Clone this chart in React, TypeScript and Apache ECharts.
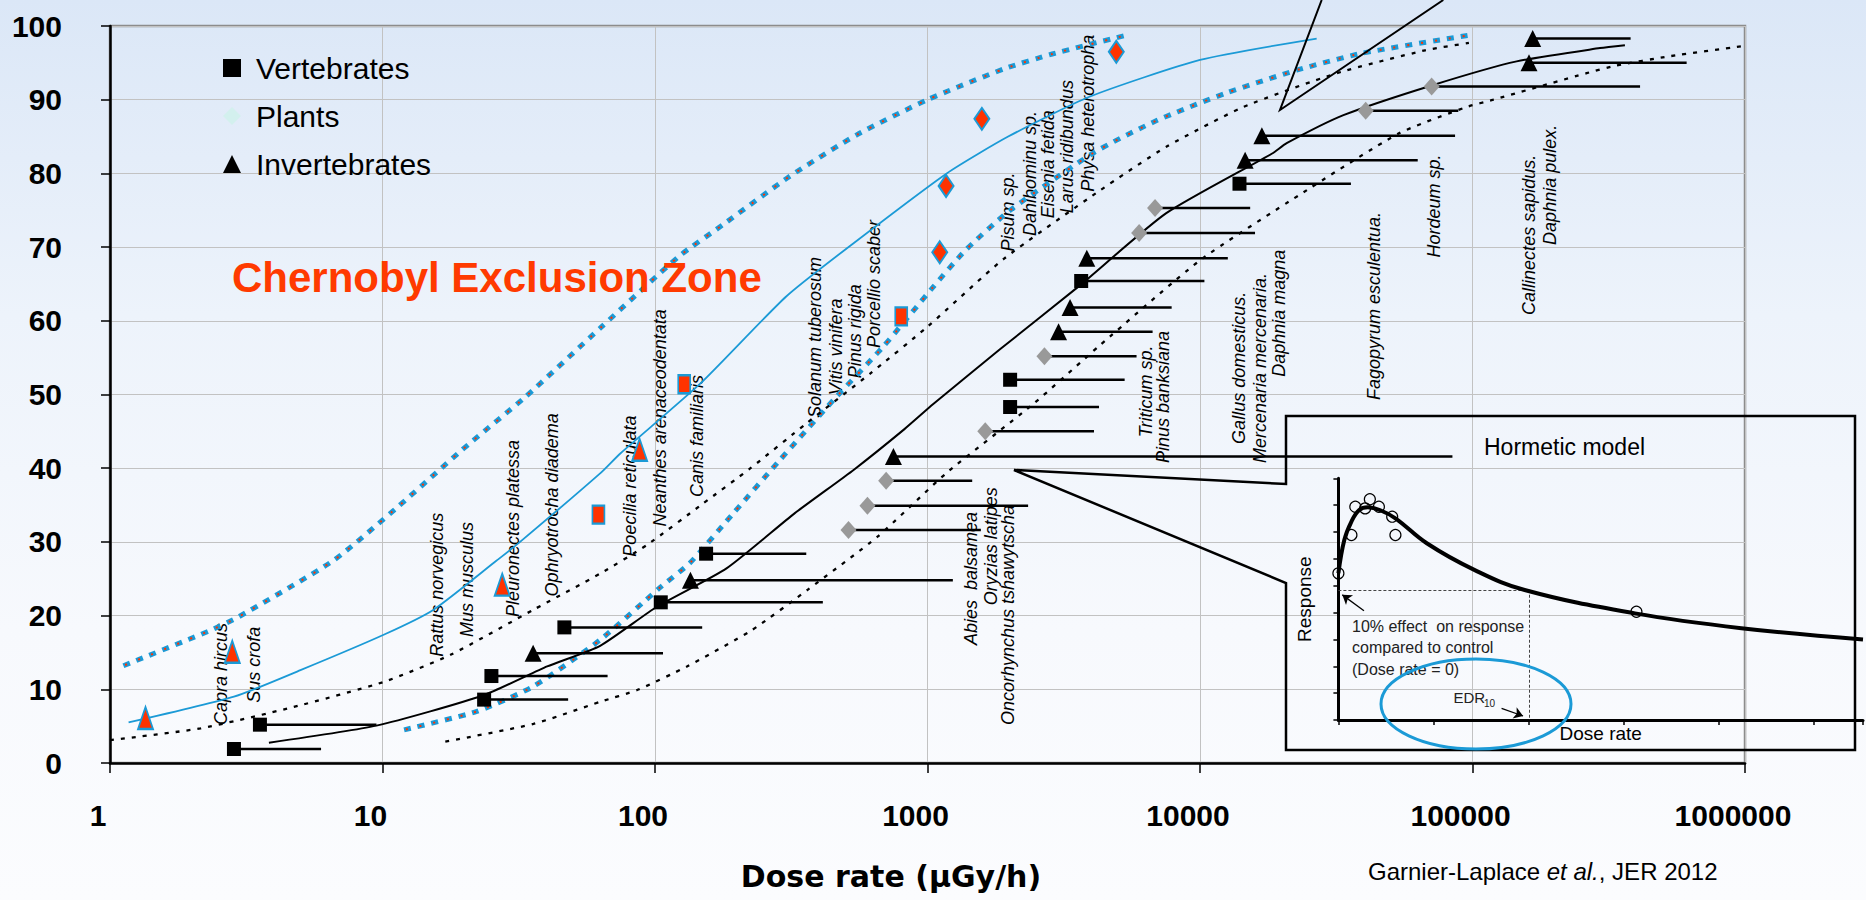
import React, { useEffect, useRef } from "react";
import * as echarts from "echarts";

// ---------- DATA ----------
// [dose rate, % species affected, end of horizontal bar]
const vertebrates: number[][] = [
  [2.85, 1.9, 5.95],
  [3.55, 5.2, 9.5],
  [23.6, 8.6, 48],
  [25.1, 11.8, 67],
  [46.5, 18.4, 149],
  [105, 21.8, 413],
  [154, 28.4, 359],
  [2010, 48.3, 4260],
  [2010, 52.0, 5290],
  [3664, 65.4, 10380],
  [13960, 78.6, 35800],
];
const plants: number[][] = [
  [513, 31.6, 1570],
  [602, 34.9, 2340],
  [705, 38.3, 1459],
  [1629, 45.0, 4083],
  [2686, 55.2, 5850],
  [5980, 71.9, 15920],
  [6840, 75.3, 15280],
  [40550, 88.5, 88700],
  [70800, 91.8, 412000],
];
const invertebrates: number[][] = [
  [35.7, 14.9, 107],
  [134.9, 24.8, 1239],
  [750, 41.6, 84400],
  [3027, 58.5, 6700],
  [3336, 61.8, 7870],
  [3843, 68.5, 12650],
  [14640, 81.8, 62950],
  [16870, 85.1, 86300],
  [161200, 95.0, 610700],
  [166300, 98.3, 380400],
];
const chernobylTriangles: number[][] = [[1.35, 6.1], [2.81, 15.1], [27.5, 24.2], [87.8, 42.5]];
const chernobylSquares: number[][] = [[62, 33.7], [128, 51.4], [801, 60.6]];
const chernobylDiamonds: number[][] = [[1109, 69.3], [1170, 78.3], [1583, 87.4], [4930, 96.5]];

const fitBlue: number[][] = [
  [1.17, 5.5], [2.85, 9.0], [5, 12.6], [10.1, 17.4], [15.4, 20.8], [26.3, 27.5], [31.5, 29.8],
  [62.9, 39.3], [74.6, 42.0], [146.8, 51.5], [303, 63.3], [534, 70.5], [1176, 80.0], [1977, 85.0],
  [3930, 90.4], [10000, 95.4], [26800, 98.3],
];
const upperBlueBand: number[][] = [
  [1.12, 13.2], [2.34, 18.0], [2.97, 19.85], [6.62, 27.5], [11.5, 34.9], [19.6, 42.5], [33.5, 49.7],
  [62.9, 59.0], [122, 68.7], [177, 73.0], [312, 79.6], [548, 85.2], [1000, 90.0], [1914, 94.2],
  [2869, 96.2], [5300, 98.7],
];
const lowerBlueBand: number[][] = [
  [12, 4.5], [22.2, 7.0], [35.8, 10.4], [62.9, 16.7], [105, 23.9], [134, 27.1], [194, 33.9],
  [287, 41.1], [453, 49.3], [688, 56.5], [1050, 64.6], [1380, 69.6], [2010, 75.0], [4110, 82.9],
  [6960, 87.2], [12460, 90.9], [22600, 94.0], [39200, 96.3], [99300, 98.8],
];
const upperBlackBand: number[][] = [
  [1, 3.1], [2.15, 4.7], [4.72, 7.6], [10.1, 11.0], [17.7, 14.65], [35.8, 20.8], [62.9, 25.7],
  [93.5, 29.6], [150, 35.2], [224, 40.0], [360, 46.1], [619, 52.9], [1000, 59.2], [1905, 68.4],
  [4300, 77.7], [7520, 83.6], [14400, 89.0], [31800, 93.6], [67000, 96.7], [97000, 97.7],
];
const lowerBlackBand: number[][] = [
  [17, 2.9], [35.8, 5.3], [62.9, 8.3], [86, 9.9], [131, 13.1], [226, 18.0], [363, 23.5],
  [655, 30.7], [1170, 39.3], [2460, 48.8], [4300, 56.7], [10000, 68.2], [23200, 77.1],
  [53500, 85.4], [95000, 89.0], [119200, 90.0], [262400, 93.6], [333400, 94.6], [529600, 95.9],
  [1000000, 97.3],
];
const ssdFit: number[][] = [
  [3.83, 2.76], [9.5, 5.07], [23.5, 9.2], [40.2, 13.1], [62.9, 15.9], [101.6, 21.2], [183, 26.4],
  [326, 33.9], [537, 39.8], [823, 45.3], [1050, 48.7], [1840, 56.1], [3570, 64.6], [7520, 74.6],
  [18400, 82.7], [20800, 84.1], [33600, 87.9], [71800, 92.0], [145200, 95.2], [293600, 97.0],
  [362500, 97.4],
];

// species names anchored at [dose rate, %] (text start, reading upward)
const speciesLabels: [string, number, number][] = [
  ["Capra hircus", 2.557, 5.16],
  ["Sus crofa", 3.39, 8.18],
  ["Rattus norvegicus", 15.9, 14.4],
  ["Mus musculus", 20.4, 17.1],
  ["Pleuronectes platessa", 30.2, 19.8],
  ["Ophryotrocha diadema", 41.9, 22.6],
  ["Poecilia reticulata", 81.2, 28.0],
  ["Neanthes arenaceodentata", 104.6, 32.1],
  ["Canis familiaris", 142.6, 36.1],
  ["Solanum tuberosum", 387, 46.8],
  ["Vitis vinifera", 462, 49.9],
  ["Pinus rigida", 543, 52.2],
  ["Porcellio scaber", 634, 56.3],
  ["Abies  balsamea", 1445, 16.0],
  ["Oryzias latipes", 1703, 21.4],
  ["Oncorhynchus tshawytscha", 1971, 5.16],
  ["Pisum sp.", 1977, 69.4],
  ["Dahlbominu sp.", 2369, 71.5],
  ["Eisenia fetida", 2768, 73.9],
  ["Larus ridibundus", 3263, 74.6],
  ["Physa heterotropha", 3880, 77.5],
  ["Triticum sp.", 6343, 44.2],
  ["Pinus banksiana", 7340, 40.7],
  ["Gallus domesticus.", 13960, 43.3],
  ["Mercenaria mercenaria.", 16610, 40.7],
  ["Daphnia magna", 19550, 52.4],
  ["Fagopyrum esculentua.", 43500, 49.25],
  ["Hordeum sp.", 72000, 68.6],
  ["Callinectes sapidus.", 161400, 60.8],
  ["Daphnia pulex.", 193200, 70.3],
];

// hormetic model inset (schematic units)
const hormeticCurve: number[][] = [
  [0, 5.46], [0.062, 6.7], [0.137, 7.39], [0.219, 7.82], [0.31, 7.92], [0.435, 7.82], [0.6, 7.51],
  [0.93, 6.58], [1.43, 5.59], [1.96, 4.84], [3.12, 3.97], [4.24, 3.42], [5.52, 3.0],
];
const hormeticObs: number[][] = [
  [0, 5.46], [0.137, 6.89], [0.178, 7.94], [0.281, 7.88], [0.331, 8.22], [0.426, 7.94],
  [0.566, 7.57], [0.6, 6.89], [3.136, 4.03],
];
const edr10: number[] = [2.01, 4.85];

// ---------- STYLE ----------
const BLUE = "#1b9ad6";
const RED = "#ff3300";
const SANS = "Liberation Sans, Arial, sans-serif";

function blueBand(data: number[][]) {
  return [
    {
      type: "line", data, showSymbol: false, smooth: 0.2, silent: true, z: 2,
      lineStyle: { color: BLUE, width: 5, type: [7, 7] },
    },
    {
      type: "line", data, showSymbol: false, smooth: 0.2, silent: true, z: 2,
      lineStyle: { color: RED, width: 2, type: [2, 12], dashOffset: -2.5 },
    },
  ];
}

export default function App() {
  const ref = useRef<HTMLDivElement>(null);

  useEffect(() => {
    const chart = echarts.init(ref.current!, null, { renderer: "svg" });
    const errorBars = [...vertebrates, ...plants, ...invertebrates];
    const redStyle = { color: RED, borderColor: BLUE, borderWidth: 2, opacity: 1 };

    const option: any = {
      animation: false,
      backgroundColor: "transparent",
      grid: [
        { left: 110, top: 26, right: 121, bottom: 137, show: true, borderColor: "#8c8c8c", borderWidth: 2.5 },
        { left: 1338.4, top: 478.3, right: 3, bottom: 180 },
      ],
      legend: {
        orient: "vertical", left: 218, top: 48, itemWidth: 18, itemHeight: 18, itemGap: 18,
        selectedMode: false,
        textStyle: { fontSize: 30, fontFamily: SANS, color: "#000", padding: [0, 0, 0, 10] },
        data: [
          { name: "Vertebrates", icon: "rect", itemStyle: { color: "#000", opacity: 1 } },
          { name: "Plants", icon: "diamond", itemStyle: { color: "#d3f0ee", opacity: 1 } },
          { name: "Invertebrates", icon: "triangle", itemStyle: { color: "#000", opacity: 1 } },
        ],
      },
      xAxis: [
        {
          type: "log", logBase: 10, min: 1, max: 1000000, gridIndex: 0,
          axisLine: { lineStyle: { color: "#000", width: 2.5 } },
          axisTick: { show: true, length: 10, lineStyle: { color: "#000", width: 1.5 } },
          axisLabel: {
            fontSize: 30, fontWeight: "bold", fontFamily: SANS, color: "#000", margin: 37,
            padding: [0, 24, 0, 0], formatter: (v: number) => String(Math.round(v)),
          },
          splitLine: { show: true, lineStyle: { color: "#c2c2c2", width: 1 } },
          minorTick: { show: false },
          name: "Dose rate (μGy/h)", nameLocation: "middle", nameGap: 98,
          nameTextStyle: { fontFamily: "DejaVu Sans", fontWeight: "bold", fontSize: 30, color: "#000", padding: [0, 73, 0, 0] },
        },
        {
          type: "value", min: 0, max: 5.52, interval: 1, gridIndex: 1,
          axisLine: { lineStyle: { color: "#000", width: 3 } },
          axisTick: { show: true, length: 5, lineStyle: { color: "#000", width: 1.5 } },
          axisLabel: { show: false }, splitLine: { show: false },
          name: "Dose rate", nameLocation: "middle", nameGap: 4,
          nameTextStyle: { fontFamily: SANS, fontSize: 19, color: "#000", verticalAlign: "top" },
        },
      ],
      yAxis: [
        {
          type: "value", min: 0, max: 100, interval: 10, gridIndex: 0,
          axisLine: { show: true, lineStyle: { color: "#000", width: 2.5 } },
          axisTick: { show: true, length: 9, lineStyle: { color: "#000", width: 1.5 } },
          axisLabel: { fontSize: 30, fontWeight: "bold", fontFamily: SANS, color: "#000", margin: 48 },
          splitLine: { show: true, lineStyle: { color: "#c2c2c2", width: 1 } },
        },
        {
          type: "value", min: 0, max: 9, interval: 1, gridIndex: 1,
          axisLine: { show: true, lineStyle: { color: "#000", width: 3 } },
          axisTick: { show: true, length: 5, lineStyle: { color: "#000", width: 1.5 } },
          axisLabel: { show: false }, splitLine: { show: false },
          name: "Response", nameLocation: "middle", nameGap: 24, nameRotate: 90,
          nameTextStyle: { fontFamily: SANS, fontSize: 19, color: "#000" },
        },
      ],
      series: [
        ...blueBand(upperBlueBand),
        ...blueBand(lowerBlueBand),
        {
          type: "line", data: fitBlue, showSymbol: false, smooth: 0.2, silent: true, z: 2,
          lineStyle: { color: BLUE, width: 1.8 },
        },
        {
          type: "line", data: upperBlackBand, showSymbol: false, smooth: 0.2, silent: true, z: 2,
          lineStyle: { color: "#000", width: 2.3, type: [4, 7] },
        },
        {
          type: "line", data: lowerBlackBand, showSymbol: false, smooth: 0.2, silent: true, z: 2,
          lineStyle: { color: "#000", width: 2.3, type: [4, 7] },
        },
        {
          type: "line", data: ssdFit, showSymbol: false, smooth: 0.2, silent: true, z: 2,
          lineStyle: { color: "#000", width: 2 },
        },
        {
          type: "custom", silent: true, z: 3, data: errorBars, encode: { x: [0, 2], y: 1 },
          renderItem: (params: any, api: any) => {
            const a = api.coord([api.value(0), api.value(1)]);
            const b = api.coord([api.value(2), api.value(1)]);
            return {
              type: "line",
              shape: { x1: a[0], y1: a[1], x2: b[0], y2: b[1] },
              style: { stroke: "#000", lineWidth: 2.5 },
            };
          },
        },
        {
          type: "custom", silent: true, z: 1,
          data: speciesLabels.map((d) => [d[1], d[2]]),
          renderItem: (params: any, api: any) => {
            const p = api.coord([api.value(0), api.value(1)]);
            return {
              type: "text", x: p[0], y: p[1], rotation: Math.PI / 2,
              style: {
                text: speciesLabels[params.dataIndex][0],
                fill: "#000", fontSize: 18, fontStyle: "italic", fontFamily: SANS,
                font: "italic 18px Liberation Sans",
                align: "left", verticalAlign: "middle",
                textAlign: "left", textVerticalAlign: "middle",
              },
            };
          },
        },
        {
          name: "Vertebrates", type: "scatter", data: vertebrates, symbol: "rect", symbolSize: 14, z: 5,
          itemStyle: { color: "#000", opacity: 1 },
        },
        {
          name: "Plants", type: "scatter", data: plants, symbol: "diamond", symbolSize: [16, 18], z: 5,
          itemStyle: { color: "#999999", opacity: 1 },
        },
        {
          name: "Invertebrates", type: "scatter", data: invertebrates, symbol: "triangle", symbolSize: [17, 17], z: 5,
          itemStyle: { color: "#000", opacity: 1 },
        },
        {
          type: "scatter", data: chernobylTriangles, symbol: "triangle", symbolSize: [15, 22], z: 6,
          itemStyle: redStyle,
        },
        {
          type: "scatter", data: chernobylSquares, symbol: "rect", symbolSize: [12, 18], z: 6,
          itemStyle: redStyle,
        },
        {
          type: "scatter", data: chernobylDiamonds, symbol: "diamond", symbolSize: [15, 22], z: 6,
          itemStyle: redStyle,
        },
        // inset: hormetic model
        {
          type: "scatter", xAxisIndex: 1, yAxisIndex: 1, data: hormeticObs, symbol: "circle", symbolSize: 11, z: 6,
          itemStyle: { color: "rgba(255,255,255,0)", borderColor: "#000", borderWidth: 1.2, opacity: 1 },
          markLine: {
            silent: true, animation: false, symbol: ["none", "none"], symbolSize: 9,
            label: { show: false },
            data: [
              [
                { coord: [0, edr10[1]], lineStyle: { type: [3, 2], color: "#444", width: 1 } },
                { coord: [edr10[0], edr10[1]] },
              ],
              [
                { coord: [edr10[0], edr10[1]], lineStyle: { type: [3, 2], color: "#444", width: 1 } },
                { coord: [edr10[0], 0] },
              ],
              [
                { coord: [0.269, 4.07], symbol: "none", lineStyle: { type: "solid", color: "#000", width: 1.3 } },
                { coord: [0.041, 4.66], symbol: "arrow" },
              ],
              [
                { coord: [1.717, 0.436], symbol: "none", lineStyle: { type: "solid", color: "#000", width: 1.3 } },
                { coord: [1.943, 0.149], symbol: "arrow" },
              ],
            ],
          },
        },
        {
          type: "line", xAxisIndex: 1, yAxisIndex: 1, data: hormeticCurve, smooth: 0.4, showSymbol: false, z: 7,
          silent: true, lineStyle: { color: "#000", width: 4 },
        },
      ],
      graphic: [
        {
          type: "text", x: 232, y: 277, z: 10,
          style: {
            text: "Chernobyl Exclusion Zone", fill: "#ff3a00", font: "bold 42px Liberation Sans",
            textAlign: "left", textVerticalAlign: "middle",
          },
        },
        {
          type: "polygon", z: 10,
          shape: { points: [[1286, 484], [1286, 416], [1855, 416], [1855, 750], [1286, 750], [1286, 583], [1014, 470]] },
          style: { fill: "none", stroke: "#000", lineWidth: 2.5 },
        },
        {
          type: "polyline", z: 10,
          shape: { points: [[1321.7, 0], [1280, 110], [1443.3, 0]] },
          style: { fill: "none", stroke: "#000", lineWidth: 2 },
        },
        {
          type: "text", x: 1484, y: 447, z: 10,
          style: { text: "Hormetic model", fill: "#000", font: "23px Liberation Sans", textAlign: "left", textVerticalAlign: "middle" },
        },
        {
          type: "text", x: 1352, y: 626, z: 10,
          style: { text: "10% effect  on response", fill: "#222", font: "16px Liberation Sans", textAlign: "left", textVerticalAlign: "middle" },
        },
        {
          type: "text", x: 1352, y: 647.5, z: 10,
          style: { text: "compared to control", fill: "#222", font: "16px Liberation Sans", textAlign: "left", textVerticalAlign: "middle" },
        },
        {
          type: "text", x: 1352, y: 669, z: 10,
          style: { text: "(Dose rate = 0)", fill: "#222", font: "16px Liberation Sans", textAlign: "left", textVerticalAlign: "middle" },
        },
        {
          type: "text", x: 1453.5, y: 697, z: 10,
          style: { text: "EDR", fill: "#222", font: "15px Liberation Sans", textAlign: "left", textVerticalAlign: "middle" },
        },
        {
          type: "text", x: 1484, y: 703, z: 10,
          style: { text: "10", fill: "#222", font: "10px Liberation Sans", textAlign: "left", textVerticalAlign: "middle" },
        },
        {
          type: "ellipse", z: 10,
          shape: { cx: 1476, cy: 704, rx: 95, ry: 45 },
          style: { fill: "none", stroke: BLUE, lineWidth: 3 },
        },
        {
          type: "text", x: 1368, y: 871, z: 10,
          style: {
            text: "{a|Garnier-Laplace }{b|et al.}{a|, JER 2012}",
            textAlign: "left", textVerticalAlign: "middle",
            rich: {
              a: { fontSize: 24, fontFamily: "Liberation Sans", color: "#000" },
              b: { fontSize: 24, fontFamily: "Liberation Sans", fontStyle: "italic", color: "#000" },
            },
          },
        },
      ],
    };

    chart.setOption(option);
    return () => chart.dispose();
  }, []);

  return (
    <div
      ref={ref}
      style={{
        position: "fixed", left: 0, top: 0, width: 1866, height: 900,
        background: "linear-gradient(180deg, #dbe7f7 0%, #edf3fb 35%, #f7f9fd 70%, #fbfcfe 100%)",
      }}
    />
  );
}
